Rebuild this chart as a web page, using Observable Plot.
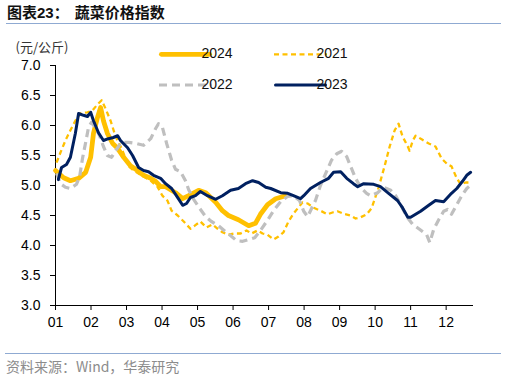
<!DOCTYPE html>
<html><head><meta charset="utf-8">
<script src="https://cdn.jsdelivr.net/npm/d3@7"></script>
<script src="https://cdn.jsdelivr.net/npm/@observablehq/plot@0.6"></script>
<style>
html,body{margin:0;padding:0;background:#fff;}
#wrap{position:relative;width:506px;height:378px;overflow:hidden;font-family:"Liberation Sans",Arial,"Noto Sans CJK SC",sans-serif;}
#title{position:absolute;left:7px;top:3px;font-size:15px;font-weight:bold;color:#111;line-height:20px;white-space:nowrap;font-family:"Liberation Sans",Arial,"Noto Sans CJK SC",sans-serif;}
#title span{margin-left:6px;}
#tline{position:absolute;left:6px;top:22.5px;width:495px;height:0;border-top:1.5px solid #8faad2;}
#chart{position:absolute;left:0;top:30px;}
#fline{position:absolute;left:5px;top:353px;width:496px;height:0;border-top:1.5px solid #8faad2;}
#source{position:absolute;left:6px;top:358px;font-size:14px;color:#8c8c8c;line-height:16px;white-space:nowrap;font-family:"Noto Sans CJK SC","Liberation Sans",sans-serif;}
</style>
</head><body>
<div id="wrap">
  <div id="title">图表23：<span>蔬菜价格指数</span></div>
  <div id="tline"></div>
  <div id="chart"></div>
  <div id="fline"></div>
  <div id="source">资料来源：Wind，华泰研究</div>
</div>
<script>
// ---- data (x = month position, 1 = "01" tick; y = 元/公斤) ----
const years = ["2024", "2021", "2022", "2023"];
const monthTicks = ["01","02","03","04","05","06","07","08","09","10","11","12"];
const monthNums = [1,2,3,4,5,6,7,8,9,10,11,12];
const yTicks = [3.0,3.5,4.0,4.5,5.0,5.5,6.0,6.5,7.0];
const unitLabel = "(元/公斤)";

const m2024 = [1.00,1.23,1.42,1.65,1.85,1.99,2.07,2.18,2.27,2.35,2.46,2.61,2.75,2.92,3.11,3.31,3.48,3.68,3.82,3.96,4.10,4.38,4.58,4.75,5.03,5.23,5.51,5.70,5.87,6.15,6.44,6.63,6.77,6.97,7.20,7.48];
const v2024 = [5.25,5.13,5.08,5.12,5.22,5.47,5.87,6.13,6.30,6.08,5.87,5.70,5.62,5.47,5.33,5.25,5.17,5.12,5.07,4.98,4.98,4.88,4.78,4.83,4.92,4.88,4.72,4.58,4.50,4.43,4.33,4.37,4.52,4.68,4.78,4.83];

const m2021 = [1.03,1.14,1.28,1.42,1.56,1.70,1.90,2.04,2.18,2.30,2.41,2.55,2.69,2.86,3.06,3.20,3.39,3.68,3.87,4.01,4.15,4.27,4.44,4.61,4.80,4.92,5.08,5.25,5.42,5.56,5.70,5.87,6.04,6.21,6.38,6.52,6.69,6.83,6.97,7.14,7.28,7.42,7.56,7.70,7.82,7.96,8.10,8.27,8.46,8.66,8.80,8.94,9.11,9.31,9.45,9.59,9.76,9.90,10.10,10.27,10.41,10.55,10.66,10.77,10.92,10.97,11.06,11.14,11.31,11.51,11.70,11.87,12.04,12.15,12.30,12.41,12.55,12.72];
const v2021 = [5.38,5.55,5.75,5.92,6.08,6.20,6.22,6.25,6.35,6.42,6.28,6.08,5.82,5.62,5.32,5.25,5.18,5.08,4.98,4.83,4.75,4.58,4.50,4.40,4.28,4.33,4.40,4.30,4.35,4.28,4.22,4.18,4.20,4.20,4.25,4.20,4.25,4.20,4.18,4.10,4.15,4.22,4.40,4.53,4.62,4.72,4.70,4.63,4.58,4.52,4.55,4.57,4.53,4.50,4.45,4.47,4.52,4.62,4.97,5.33,5.65,5.92,6.03,5.82,5.65,5.58,5.75,5.83,5.77,5.70,5.65,5.45,5.35,5.32,5.12,5.02,5.05,5.05];

const m2022 = [1.03,1.14,1.28,1.42,1.59,1.68,1.76,1.85,1.93,2.01,2.13,2.24,2.35,2.46,2.58,2.69,2.86,3.06,3.28,3.48,3.68,3.82,3.90,4.01,4.13,4.27,4.38,4.52,4.66,4.75,4.89,5.06,5.23,5.39,5.59,5.79,5.96,6.10,6.27,6.44,6.61,6.77,6.97,7.14,7.34,7.54,7.70,7.87,7.99,8.10,8.18,8.32,8.46,8.63,8.77,8.92,9.06,9.20,9.31,9.45,9.59,9.76,9.87,10.07,10.24,10.44,10.58,10.72,10.89,11.06,11.25,11.45,11.54,11.65,11.79,11.93,12.04,12.15,12.30,12.44,12.58,12.72];
const v2022 = [5.20,5.03,4.97,4.95,5.02,5.15,5.45,5.72,5.97,6.05,5.97,5.83,5.65,5.50,5.47,5.58,5.72,5.72,5.70,5.67,5.78,5.95,6.03,5.97,5.70,5.42,5.27,5.23,5.08,4.93,4.77,4.62,4.48,4.40,4.33,4.23,4.15,4.08,4.07,4.10,4.13,4.25,4.42,4.58,4.73,4.82,4.83,4.75,4.57,4.48,4.58,4.75,5.00,5.23,5.42,5.53,5.57,5.48,5.32,5.12,4.97,4.87,4.83,4.88,4.97,4.92,4.83,4.68,4.48,4.35,4.27,4.18,4.05,4.27,4.43,4.57,4.60,4.52,4.68,4.83,4.95,5.02];

const m2023 = [1.08,1.17,1.31,1.42,1.56,1.65,1.79,1.90,1.99,2.07,2.21,2.35,2.49,2.63,2.75,2.83,3.03,3.17,3.34,3.48,3.62,3.76,3.96,4.10,4.27,4.46,4.58,4.69,4.80,4.94,5.08,5.28,5.51,5.70,5.93,6.15,6.35,6.55,6.72,6.92,7.06,7.34,7.54,7.70,7.90,7.99,8.18,8.46,8.69,8.83,9.03,9.20,9.39,9.51,9.68,9.96,10.15,10.38,10.63,10.77,10.92,11.00,11.14,11.28,11.51,11.70,11.93,12.15,12.30,12.46,12.58,12.69];
const v2023 = [5.10,5.30,5.35,5.47,5.87,6.20,6.17,6.15,6.22,6.08,5.88,5.75,5.78,5.80,5.83,5.75,5.63,5.50,5.30,5.25,5.23,5.17,5.12,5.03,4.95,4.78,4.67,4.70,4.80,4.83,4.90,4.83,4.77,4.83,4.92,4.95,5.03,5.08,5.05,4.97,4.95,4.88,4.87,4.83,4.78,4.83,4.95,5.05,5.12,5.22,5.23,5.12,5.03,4.98,5.03,5.02,4.98,4.87,4.75,4.63,4.47,4.47,4.52,4.57,4.67,4.75,4.73,4.87,4.95,5.07,5.17,5.22];

const seriesData = {
  "2024": m2024.map((m, i) => ({m, v: v2024[i]})),
  "2021": m2021.map((m, i) => ({m, v: v2021[i]})),
  "2022": m2022.map((m, i) => ({m, v: v2022[i]})),
  "2023": m2023.map((m, i) => ({m, v: v2023[i]}))
};

const styles = {
  "2024": {stroke: "#FFC000", strokeWidth: 4.8, dash: null, cap: "round"},
  "2021": {stroke: "#FFC000", strokeWidth: 2.3, dash: "5,3.5", cap: "butt"},
  "2022": {stroke: "#BFBFBF", strokeWidth: 3.2, dash: "8,5", cap: "butt"},
  "2023": {stroke: "#002060", strokeWidth: 3, dash: null, cap: "round"}
};

const chart = Plot.plot({
  width: 506,
  height: 315,
  marginTop: 35,
  marginBottom: 40,
  marginLeft: 55,
  marginRight: 33,
  x: {domain: [1, 12.77]},
  y: {domain: [3, 7]},
  style: {fontFamily: "'Liberation Sans', Arial, sans-serif", fontSize: "14px", color: "#000", background: "#fff", overflow: "visible"},
  marks: [
    Plot.axisX(monthNums, {tickFormat: d => monthTicks[d - 1], tickSize: 5, tickPadding: 7, label: null, fontSize: 14, stroke: "#000"}),
    Plot.axisY(yTicks, {tickFormat: d => d.toFixed(1), tickSize: 5, tickPadding: 10, label: null, fontSize: 14, stroke: "#000"}),
    Plot.ruleX([1], {stroke: "#000", strokeWidth: 1}),
    Plot.ruleY([3], {stroke: "#000", strokeWidth: 1}),
    ...years.map(y => Plot.line(seriesData[y], {
      x: "m", y: "v",
      stroke: styles[y].stroke,
      strokeWidth: styles[y].strokeWidth,
      strokeDasharray: styles[y].dash,
      strokeLinecap: styles[y].cap,
      strokeLinejoin: "round"
    }))
  ]
});

document.getElementById("chart").appendChild(chart);

// unit label and legend drawn inside the SVG
const svg = d3.select(chart);
svg.append("text")
  .attr("x", 42).attr("y", 18)
  .attr("dominant-baseline", "middle")
  .attr("font-family", "'Noto Sans CJK SC', sans-serif")
  .attr("font-size", 13)
  .attr("fill", "#333")
  .text(unitLabel);

const legendPos = {
  "2024": {x: 159, y: 24.3},
  "2021": {x: 274, y: 24.3},
  "2022": {x: 159, y: 55},
  "2023": {x: 274, y: 55}
};
const lg = svg.append("g");
years.forEach(yr => {
  const p = legendPos[yr], s = styles[yr];
  const inset = s.cap === "round" ? s.strokeWidth / 2 : 0;
  lg.append("line")
    .attr("x1", p.x + inset).attr("x2", p.x + 53 - inset)
    .attr("y1", p.y).attr("y2", p.y)
    .attr("stroke", s.stroke)
    .attr("stroke-width", s.strokeWidth)
    .attr("stroke-dasharray", s.dash)
    .attr("stroke-linecap", s.cap);
  lg.append("text")
    .attr("x", p.x + 58).attr("y", p.y)
    .attr("dominant-baseline", "middle")
    .attr("font-family", "'Liberation Sans', Arial, sans-serif")
    .attr("font-size", 14)
    .attr("fill", "#111")
    .text(yr);
});
</script>
</body></html>
